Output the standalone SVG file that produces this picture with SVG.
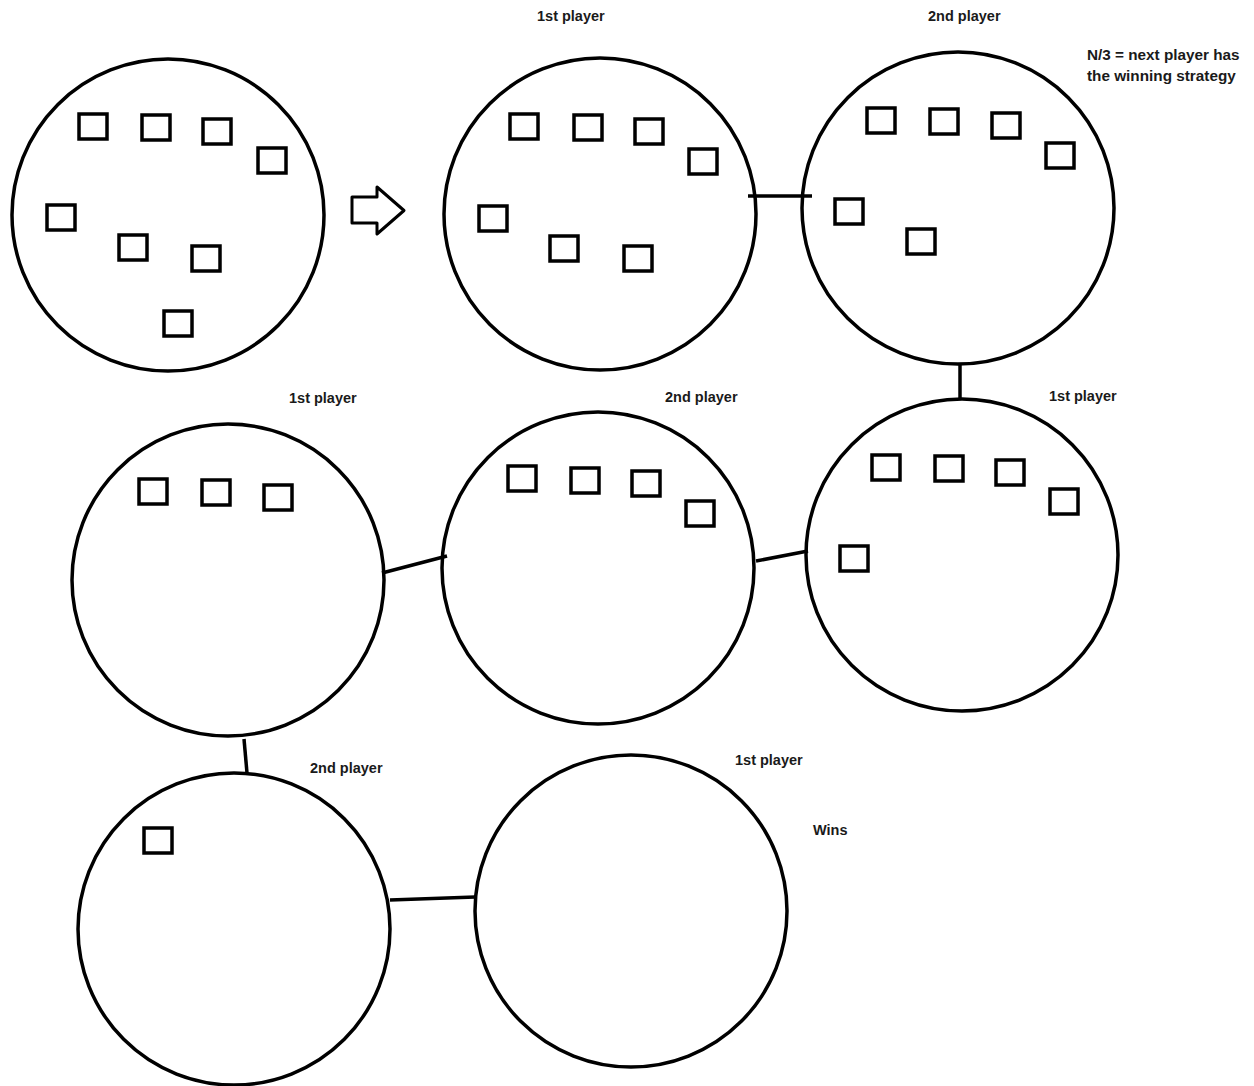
<svg xmlns="http://www.w3.org/2000/svg" width="1254" height="1086" viewBox="0 0 1254 1086">
<style>
.c{fill:none;stroke:#000;stroke-width:3.5}
.sq{fill:none;stroke:#000;stroke-width:3.5}
.ln{stroke:#000;stroke-width:3.5;fill:none}
.t{font-family:"Liberation Sans",Arial,sans-serif;font-weight:bold;font-size:14.5px;fill:#1a1a1a}
.n{font-size:15.3px}
</style>
<defs>
<rect id="s" width="28" height="25" class="sq"/>
</defs>
<rect width="1254" height="1086" fill="#fff"/>
<g id="connectors">
<polygon points="352,197 377,197 377,187 404,210.5 377,234 377,223 352,223" fill="none" stroke="#000" stroke-width="3" stroke-linejoin="round"/>
<line class="ln" x1="748" y1="196" x2="812" y2="196"/>
<line class="ln" x1="960" y1="364" x2="960" y2="399"/>
<line class="ln" x1="756" y1="561" x2="808" y2="551"/>
<line class="ln" x1="382" y1="573" x2="447" y2="556"/>
<line class="ln" x1="244" y1="739" x2="247" y2="773"/>
<line class="ln" x1="390" y1="900" x2="475" y2="897"/>
</g>
<g id="n0">
<circle class="c" cx="168" cy="215" r="156"/>
<use href="#s" x="79" y="114"/><use href="#s" x="142" y="115"/><use href="#s" x="203" y="119"/><use href="#s" x="258" y="148"/>
<use href="#s" x="47" y="205"/><use href="#s" x="119" y="235"/><use href="#s" x="192" y="246"/><use href="#s" x="164" y="311"/>
</g>
<g id="n1">
<circle class="c" cx="600" cy="214" r="156"/>
<use href="#s" x="510" y="114"/><use href="#s" x="574" y="115"/><use href="#s" x="635" y="119"/><use href="#s" x="689" y="149"/>
<use href="#s" x="479" y="206"/><use href="#s" x="550" y="236"/><use href="#s" x="624" y="246"/>
<text class="t" x="537" y="21">1st player</text>
</g>
<g id="n2">
<circle class="c" cx="958" cy="208" r="156"/>
<use href="#s" x="867" y="108"/><use href="#s" x="930" y="109"/><use href="#s" x="992" y="113"/><use href="#s" x="1046" y="143"/>
<use href="#s" x="835" y="199"/><use href="#s" x="907" y="229"/>
<text class="t" x="928" y="21">2nd player</text>
<text class="t n" x="1087" y="60">N/3 = next player has</text>
<text class="t n" x="1087" y="81">the winning strategy</text>
</g>
<g id="n3">
<circle class="c" cx="228" cy="580" r="156"/>
<use href="#s" x="139" y="479"/><use href="#s" x="202" y="480"/><use href="#s" x="264" y="485"/>
<text class="t" x="289" y="403">1st player</text>
</g>
<g id="n4">
<circle class="c" cx="598" cy="568" r="156"/>
<use href="#s" x="508" y="466"/><use href="#s" x="571" y="468"/><use href="#s" x="632" y="471"/><use href="#s" x="686" y="501"/>
<text class="t" x="665" y="402">2nd player</text>
</g>
<g id="n5">
<circle class="c" cx="962" cy="555" r="156"/>
<use href="#s" x="872" y="455"/><use href="#s" x="935" y="456"/><use href="#s" x="996" y="460"/><use href="#s" x="1050" y="489"/>
<use href="#s" x="840" y="546"/>
<text class="t" x="1049" y="401">1st player</text>
</g>
<g id="n6">
<circle class="c" cx="234" cy="929" r="156"/>
<use href="#s" x="144" y="828"/>
<text class="t" x="310" y="773">2nd player</text>
</g>
<g id="n7">
<circle class="c" cx="631" cy="911" r="156"/>
<text class="t" x="735" y="765">1st player</text>
<text class="t" x="813" y="835">Wins</text>
</g>
</svg>
